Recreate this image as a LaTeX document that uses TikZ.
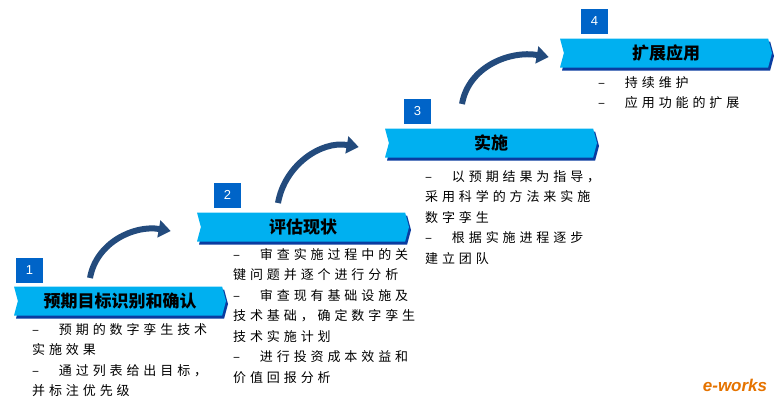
\documentclass[tikz,border=0pt]{standalone}
\usepackage{fontspec}
\setmainfont{Liberation Sans}
\newfontfamily\cjk{Noto Sans CJK SC}
\newfontfamily\cjkwide[LetterSpace=30]{Noto Sans CJK SC}
\usetikzlibrary{shapes.symbols,shadows,arrows.meta}
\definecolor{bannercyan}{RGB}{0,176,240}
\definecolor{bannerdark}{RGB}{10,60,160}
\definecolor{boxblue}{RGB}{0,100,200}
\definecolor{turnblue}{RGB}{35,75,125}
\begin{document}
\begin{tikzpicture}[x=1pt,y=-1pt,
    banner/.style = {signal, signal to=east, signal from=west, signal pointer angle=150,
        fill=bannercyan, minimum width=212pt, minimum height=29pt, inner sep=0pt,
        font=\cjk\fontsize{17}{17}\selectfont\bfseries,
        drop shadow={shadow xshift=2pt, shadow yshift=-3pt, fill=bannerdark, opacity=1}},
    numbox/.style = {fill=boxblue, text=white, minimum width=27pt, minimum height=25pt,
        inner sep=0pt, font=\fontsize{13}{13}\selectfont},
    items/.style = {anchor=north west, align=left, inner sep=0pt,
        font=\cjkwide\fontsize{13}{20.5}\selectfont},
    turn/.style = {line width=6pt, draw=turnblue, -{Triangle[width=17pt,length=12pt]}}]
    \useasboundingbox (0,0) rectangle (783,408);

    \node[numbox] (n1) at (29.5,270) {1};
    \node[numbox] (n2) at (227.5,195) {2};
    \node[numbox] (n3) at (417.5,111) {3};
    \node[numbox] (n4) at (594.5,21) {4};

    \node[banner] (b1) at (120,301) {预期目标识别和确认};
    \node[banner] (b2) at (303,227) {评估现状};
    \node[banner] (b3) at (491,143) {实施};
    \node[banner] (b4) at (666,53) {扩展应用};

    \node[items] (t1) at (32,323) {–\quad\ 预期的数字孪生技术\\实施效果\\–\quad\ 通过列表给出目标，\\并标注优先级};
    \node[items] (t2) at (233,248) {–\quad\ 审查实施过程中的关\\键问题并逐个进行分析\\–\quad\ 审查现有基础设施及\\技术基础，确定数字孪生\\技术实施计划\\–\quad\ 进行投资成本效益和\\价值回报分析};
    \node[items] (t3) at (425,170) {–\quad\ 以预期结果为指导，\\采用科学的方法来实施\\数字孪生\\–\quad\ 根据实施进程逐步\\建立团队};
    \node[items] (t4) at (598,76) {–\quad\ 持续维护\\–\quad\ 应用功能的扩展};

    \coordinate (a1) at (90,278);
    \coordinate (a2) at (278,203);
    \coordinate (a3) at (462,104);
    \draw[turn] (a1) to[out=80,in=170] ([xshift=-30pt,yshift=-4pt]b2.west);
    \draw[turn] (a2) to[out=80,in=170] ([xshift=-30pt,yshift=-4pt]b3.west);
    \draw[turn] (a3) to[out=80,in=170] ([xshift=-15pt,yshift=-4pt]b4.west);

    \node[font=\bfseries\itshape\fontsize{17}{17}\selectfont, text=orange!90!black] (logo) at (735,385) {e-works};
\end{tikzpicture}
\end{document}
